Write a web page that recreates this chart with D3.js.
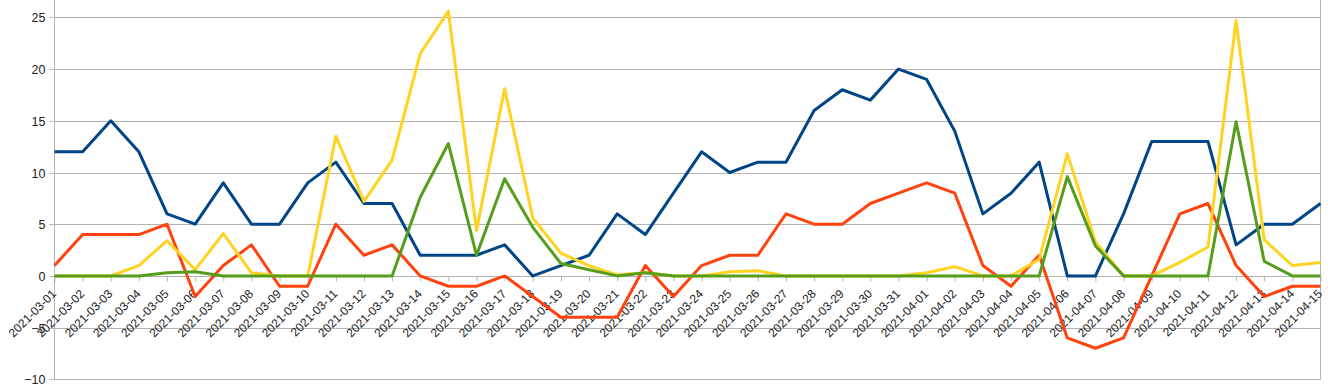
<!DOCTYPE html>
<html><head><meta charset="utf-8">
<script src="https://cdn.jsdelivr.net/npm/d3@7"></script>
<style>
html,body{margin:0;padding:0;background:#fff;}
svg{display:block;}
text{font-family:"Liberation Sans",Arial,sans-serif;fill:#222;}
</style></head>
<body>
<svg id="chart" width="1328" height="390"></svg>
<script>
const dates = ["2021-03-01","2021-03-02","2021-03-03","2021-03-04","2021-03-05","2021-03-06","2021-03-07","2021-03-08","2021-03-09","2021-03-10","2021-03-11","2021-03-12","2021-03-13","2021-03-14","2021-03-15","2021-03-16","2021-03-17","2021-03-18","2021-03-19","2021-03-20","2021-03-21","2021-03-22","2021-03-23","2021-03-24","2021-03-25","2021-03-26","2021-03-27","2021-03-28","2021-03-29","2021-03-30","2021-03-31","2021-04-01","2021-04-02","2021-04-03","2021-04-04","2021-04-05","2021-04-06","2021-04-07","2021-04-08","2021-04-09","2021-04-10","2021-04-11","2021-04-12","2021-04-13","2021-04-14","2021-04-15"];
const blueSeries   = [12,12,15,12,6,5,9,5,5,9,11,7,7,2,2,2,3,0,1,2,6,4,8,12,10,11,11,16,18,17,20,19,14,6,8,11,0,0,6,13,13,13,3,5,5,7];
const redSeries    = [1,4,4,4,5,-2,1,3,-1,-1,5,2,3,0,-1,-1,0,-2,-4,-4,-4,1,-2,1,2,2,6,5,5,7,8,9,8,1,-1,2,-6,-7,-6,0,6,7,1,-2,-1,-1];
const yellowSeries = [0,0,0,1,3.4,0.6,4.1,0.3,0,0,13.5,7.2,11.2,21.5,25.6,4.4,18.1,5.6,2.2,1,0.1,0.3,0,0,0.4,0.5,0,0,0,0,0,0.3,0.9,0,0,1.6,11.8,3.3,0,0,1.3,2.8,24.7,3.5,1,1.3];
const greenSeries  = [0,0,0,0,0.3,0.4,0,0,0,0,0,0,0,7.6,12.8,2,9.4,4.7,1.2,0.6,0,0.3,0,0,0,0,0,0,0,0,0,0,0,0,0,0,9.6,2.9,0,0,0,0,14.9,1.4,0,0];
const yTicks = [-10,-5,0,5,10,15,20,25];

const series = [
  {values: blueSeries, color: "#004586"},
  {values: redSeries, color: "#ff420e"},
  {values: yellowSeries, color: "#ffd320"},
  {values: greenSeries, color: "#579d1c"}
];

const svg = d3.select("#chart");
const x = d3.scalePoint().domain(dates).range([54.5, 1320.5]).padding(0);
const y = d3.scaleLinear().domain([-10, 30]).range([379.3, -34.3]);

// gridlines
svg.append("g").selectAll("line").data(yTicks).join("line")
  .attr("x1", 54.5).attr("x2", 1320.5)
  .attr("y1", d => Math.round(y(d)) + 0.5).attr("y2", d => Math.round(y(d)) + 0.5)
  .attr("stroke", "#b3b3b3").attr("stroke-width", 1);

// right border
svg.append("line").attr("x1", 1320.5).attr("x2", 1320.5).attr("y1", 0).attr("y2", Math.round(y(-10)) + 0.5)
  .attr("stroke", "#b3b3b3");

// y axis
const yAxis = d3.axisLeft(y).tickValues(yTicks).tickSize(5).tickPadding(4).tickFormat(d3.format("d"));
const gy = svg.append("g").attr("transform", "translate(54.5,0)").call(yAxis);
gy.select(".domain").attr("stroke", "#b3b3b3").attr("d", `M0,0V${Math.round(y(-10))+0.5}`);
gy.selectAll(".tick line").attr("stroke", "#b3b3b3");
gy.selectAll(".tick").attr("transform", d => `translate(0,${Math.round(y(d)) + 0.5})`);
gy.selectAll(".tick text").style("font-size", "12.5px").attr("fill", "#222");

// x axis at y=0
const xAxis = d3.axisBottom(x).tickSize(5).tickSizeOuter(0);
const gx = svg.append("g").attr("transform", `translate(0,${Math.round(y(0)) + 0.5})`).call(xAxis);
gx.select(".domain").remove();
gx.selectAll(".tick line").attr("stroke", "#b3b3b3");
gx.selectAll(".tick text")
  .style("font-size", "12px").attr("fill", "#222")
  .attr("text-anchor", "end")
  .attr("transform", "translate(2,18) rotate(-45)")
  .attr("x", 0).attr("y", 0).attr("dy", 0);

// lines
const line = d3.line().x((d, i) => x(dates[i])).y(d => y(d));
svg.append("g").selectAll("path").data(series).join("path")
  .attr("d", s => line(s.values))
  .attr("fill", "none")
  .attr("stroke", s => s.color)
  .attr("stroke-width", 3)
  .attr("stroke-linejoin", "round");
</script>
</body></html>
